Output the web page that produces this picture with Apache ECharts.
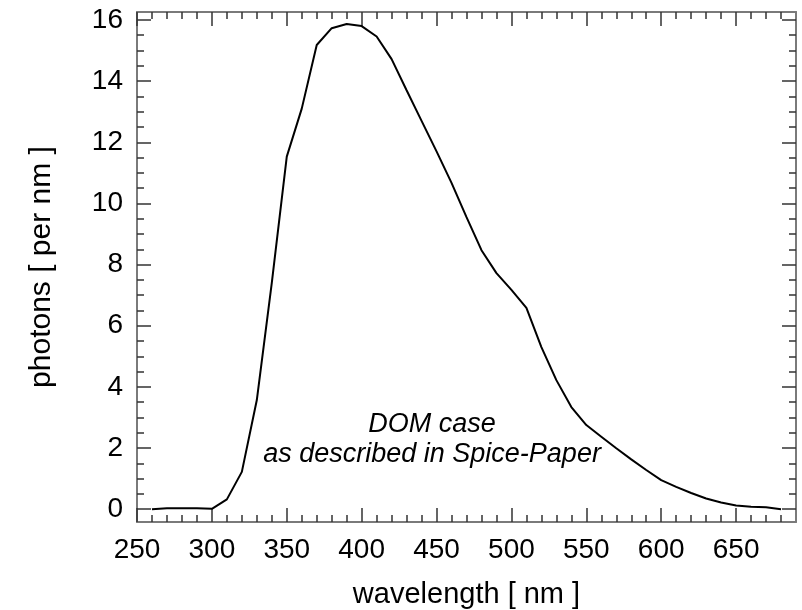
<!DOCTYPE html>
<html>
<head>
<meta charset="utf-8">
<script src="https://cdn.jsdelivr.net/npm/echarts@6/dist/echarts.min.js"></script>
<style>
  html, body { margin: 0; padding: 0; background: #fff; }
  #chart { width: 802px; height: 610px; }
</style>
</head>
<body>
<div id="chart"></div>
<script>
"use strict";
// wavelength in nm, photons per nm
var wavelength = [260, 270, 280, 290, 300, 310, 320, 330, 340, 350, 360, 370, 380, 390, 400,
  410, 420, 430, 440, 450, 460, 470, 480, 490, 500, 510, 520, 530, 540, 550, 560, 570,
  580, 590, 600, 610, 620, 630, 640, 650, 660, 670, 680];
var photons = [0.0, 0.03, 0.03, 0.03, 0.01, 0.32, 1.22, 3.57, 7.4, 11.53, 13.1, 15.18, 15.73, 15.87, 15.8,
  15.46, 14.72, 13.7, 12.7, 11.7, 10.67, 9.55, 8.47, 7.72, 7.17, 6.58, 5.3, 4.22, 3.34, 2.75, 2.37, 1.99,
  1.63, 1.28, 0.95, 0.73, 0.53, 0.35, 0.22, 0.12, 0.08, 0.06, 0.0];

var xMajor = [250, 300, 350, 400, 450, 500, 550, 600, 650];
var xMinor = [260, 270, 280, 290, 310, 320, 330, 340, 360, 370, 380, 390, 410, 420, 430, 440,
  460, 470, 480, 490, 510, 520, 530, 540, 560, 570, 580, 590, 610, 620, 630, 640, 660, 670, 680];
var yMajor = [0, 2, 4, 6, 8, 10, 12, 14, 16];
var yMinor = [0.5, 1, 1.5, 2.5, 3, 3.5, 4.5, 5, 5.5, 6.5, 7, 7.5, 8.5, 9, 9.5, 10.5, 11, 11.5,
  12.5, 13, 13.5, 14.5, 15, 15.5];

var noteText = 'DOM case\nas described in Spice-Paper';
var notePos = [447, 2.27];

var FONT = '"Liberation Sans", Arial, sans-serif';
var frameColor = '#7a7a7a';
var tickColor = '#333';

var chart = echarts.init(document.getElementById('chart'));

function xAxisOf(gridIndex, position, ticks, length, withLabels) {
  return {
    type: 'value', gridIndex: gridIndex, position: position, min: 250, max: 690,
    axisLine: { show: gridIndex === 0, onZero: false, lineStyle: { color: frameColor, width: 2 } },
    axisTick: { show: true, inside: true, length: length, customValues: ticks,
      lineStyle: { color: tickColor, width: 1.5 } },
    axisLabel: withLabels ? { show: true, customValues: xMajor, margin: 14,
      fontSize: 28, fontFamily: FONT, color: '#000' } : { show: false },
    splitLine: { show: false },
    name: withLabels ? 'wavelength [ nm ]' : '',
    nameLocation: 'middle', nameGap: 58,
    nameTextStyle: { fontSize: 29, fontFamily: FONT, color: '#000' }
  };
}

function yAxisOf(gridIndex, position, ticks, length, withLabels) {
  return {
    type: 'value', gridIndex: gridIndex, position: position, min: -0.42, max: 16.26,
    axisLine: { show: gridIndex === 0, onZero: false, lineStyle: { color: frameColor, width: 2 } },
    axisTick: { show: true, inside: true, length: length, customValues: ticks,
      lineStyle: { color: tickColor, width: 1.5 } },
    axisLabel: withLabels ? { show: true, customValues: yMajor, margin: 14,
      fontSize: 28, fontFamily: FONT, color: '#000' } : { show: false },
    splitLine: { show: false },
    name: withLabels ? 'photons [ per nm ]' : '',
    nameLocation: 'middle', nameGap: 80,
    nameTextStyle: { fontSize: 30, fontFamily: FONT, color: '#000' }
  };
}

var gridBox = { left: 137, right: 6, top: 12, bottom: 88, containLabel: false, outerBoundsMode: 'none' };

var option = {
  animation: false,
  backgroundColor: '#fff',
  grid: [gridBox, gridBox],
  xAxis: [
    xAxisOf(0, 'bottom', xMajor, 14, true),
    xAxisOf(0, 'top', xMajor, 14, false),
    xAxisOf(1, 'bottom', xMinor, 7, false),
    xAxisOf(1, 'top', xMinor, 7, false)
  ],
  yAxis: [
    yAxisOf(0, 'left', yMajor, 14, true),
    yAxisOf(0, 'right', yMajor, 14, false),
    yAxisOf(1, 'left', yMinor, 7, false),
    yAxisOf(1, 'right', yMinor, 7, false)
  ],
  series: [{
    type: 'line',
    xAxisIndex: 0,
    yAxisIndex: 0,
    data: wavelength.map(function (w, i) { return [w, photons[i]]; }),
    symbol: 'none',
    smooth: false,
    lineStyle: { color: '#000', width: 2 },
    markPoint: {
      silent: true,
      symbol: 'circle',
      symbolSize: 1,
      itemStyle: { color: 'rgba(0,0,0,0)' },
      label: {
        show: true, position: 'inside', formatter: noteText,
        fontSize: 27, lineHeight: 30, fontStyle: 'italic', fontFamily: FONT,
        color: '#000', align: 'center'
      },
      data: [{ coord: notePos }]
    }
  }]
};

chart.setOption(option);
</script>
</body>
</html>
